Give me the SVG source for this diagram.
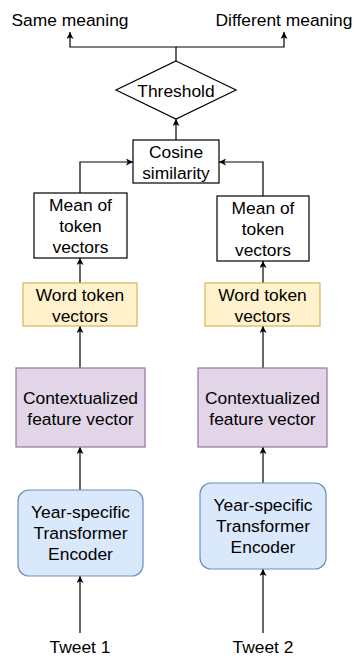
<svg xmlns="http://www.w3.org/2000/svg" width="358" height="664" viewBox="0 0 358 664">
<defs>
<style>
text{font-family:"Liberation Sans",Arial,sans-serif;font-size:17.4px;fill:#000;text-anchor:middle}
.c{fill:none;stroke:#000;stroke-width:1.2}
.w{fill:#fff;stroke:#000;stroke-width:1.2}
.y{fill:#fff2cc;stroke:#d6b656;stroke-width:1.2}
.p{fill:#e1d5e7;stroke:#9673a6;stroke-width:1.2}
.b{fill:#dae8fc;stroke:#6c8ebf;stroke-width:1.2}
</style>
<marker id="ah" markerUnits="userSpaceOnUse" markerWidth="10" markerHeight="10" refX="7" refY="3.5" orient="auto">
<path d="M0,0 L7,3.5 L0,7 L1.8,3.5 z" fill="#000"/>
</marker>
</defs>
<g id="connectors">
<path class="c" d="M176,61 V47 H70 V32" marker-end="url(#ah)"/>
<path class="c" d="M176,47 H284 V32" marker-end="url(#ah)"/>
<path class="c" d="M176,140 V119" marker-end="url(#ah)"/>
<path class="c" d="M80,193 V162 H133" marker-end="url(#ah)"/>
<path class="c" d="M263,196 V162 H219" marker-end="url(#ah)"/>
<path class="c" d="M80,283 V258" marker-end="url(#ah)"/>
<path class="c" d="M263,283 V261" marker-end="url(#ah)"/>
<path class="c" d="M80,368 V326" marker-end="url(#ah)"/>
<path class="c" d="M263,368 V326" marker-end="url(#ah)"/>
<path class="c" d="M80,490 V447" marker-end="url(#ah)"/>
<path class="c" d="M263,483 V447" marker-end="url(#ah)"/>
<path class="c" d="M80,633 V576" marker-end="url(#ah)"/>
<path class="c" d="M263,633 V569" marker-end="url(#ah)"/>
</g>
<g id="same"><text x="70" y="26">Same meaning</text></g>
<g id="different"><text x="284" y="26">Different meaning</text></g>
<g id="threshold">
<polygon class="w" points="176,61 236,90 176,119 116,90"/>
<text x="176" y="96.5">Threshold</text>
</g>
<g id="cosine">
<rect class="w" x="133" y="140" width="86" height="43"/>
<text x="176" y="157.5">Cosine</text>
<text x="176" y="178.5">similarity</text>
</g>
<g id="mean1">
<rect class="w" x="34" y="193" width="93" height="65"/>
<text x="80.5" y="211">Mean of</text>
<text x="80.5" y="232">token</text>
<text x="80.5" y="253">vectors</text>
</g>
<g id="mean2">
<rect class="w" x="217" y="196" width="92" height="65"/>
<text x="263" y="214">Mean of</text>
<text x="263" y="235">token</text>
<text x="263" y="256">vectors</text>
</g>
<g id="word1">
<rect class="y" x="23" y="283" width="114" height="43"/>
<text x="80" y="300.5">Word token</text>
<text x="80" y="321.5">vectors</text>
</g>
<g id="word2">
<rect class="y" x="205" y="283" width="115" height="43"/>
<text x="262.5" y="300.5">Word token</text>
<text x="262.5" y="321.5">vectors</text>
</g>
<g id="ctx1">
<rect class="p" x="16" y="368" width="129" height="79"/>
<text x="80.5" y="403.5">Contextualized</text>
<text x="80.5" y="424.5">feature vector</text>
</g>
<g id="ctx2">
<rect class="p" x="198" y="368" width="129" height="79"/>
<text x="262.5" y="403.5">Contextualized</text>
<text x="262.5" y="424.5">feature vector</text>
</g>
<g id="enc1">
<rect class="b" x="18" y="490" width="125" height="86" rx="11"/>
<text x="80.5" y="518">Year-specific</text>
<text x="80.5" y="539">Transformer</text>
<text x="80.5" y="560">Encoder</text>
</g>
<g id="enc2">
<rect class="b" x="200" y="483" width="126" height="86" rx="11"/>
<text x="263" y="511">Year-specific</text>
<text x="263" y="532">Transformer</text>
<text x="263" y="553">Encoder</text>
</g>
<g id="tweet1"><text x="80" y="653">Tweet 1</text></g>
<g id="tweet2"><text x="263" y="653">Tweet 2</text></g>
</svg>
